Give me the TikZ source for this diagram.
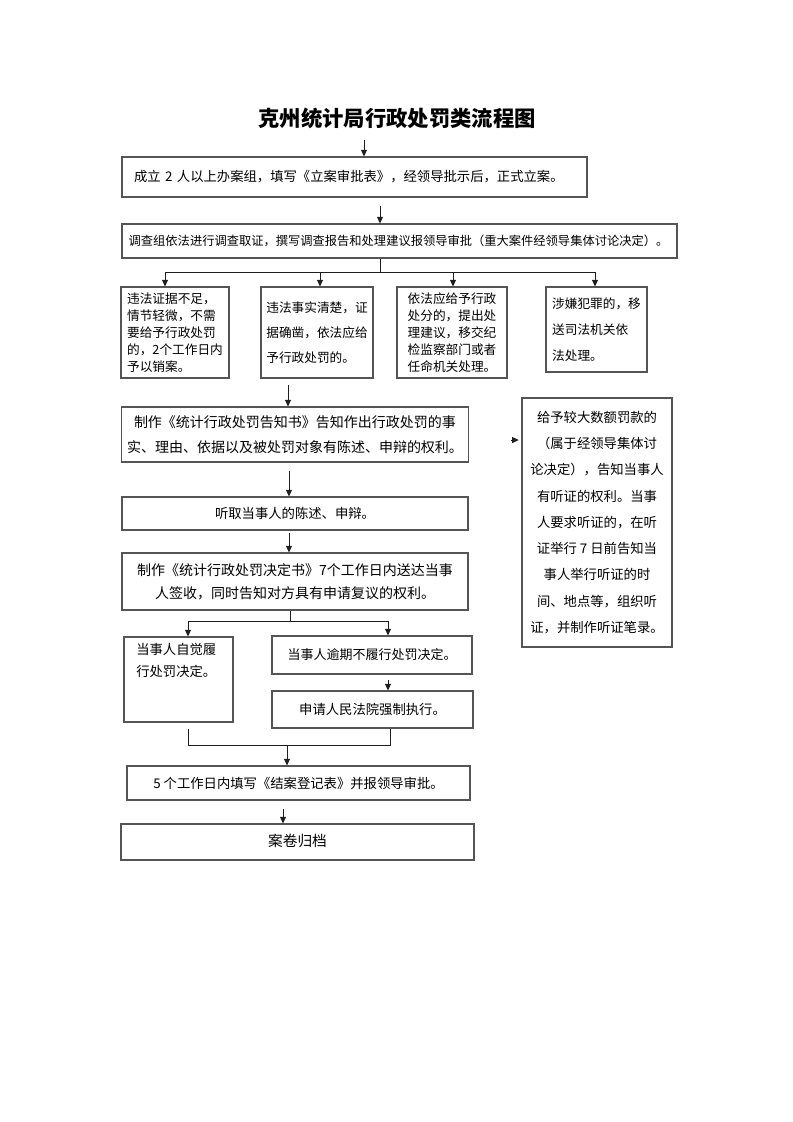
\documentclass[tikz,border=0pt]{standalone}
\usepackage{fontspec}
\setmainfont{Noto Sans CJK SC}
\usetikzlibrary{arrows.meta}

\definecolor{boxline}{RGB}{85,85,85}
\definecolor{inkline}{RGB}{30,30,30}

\tikzset{
  box/.style={draw=boxline, line width=0.8pt, inner xsep=4pt, inner ysep=0pt,
    align=center, font={\fontsize{10}{17}\selectfont}},
  narrow/.style={box, align=left, font={\fontsize{9.5}{12.8}\selectfont}},
  line/.style={draw=inkline, line width=0.75pt},
  arr/.style={line, -{Triangle[length=5pt,width=4.5pt]}}
}

\begin{document}
\begin{tikzpicture}[x=0.75pt, y=-0.75pt]

    % page frame (pixel grid of the reference)
    \useasboundingbox (0,0) rectangle (793,1122);

    % Title
    \node[font={\bfseries\fontsize{16}{16}\selectfont}] (title) at (397,118) {克州统计局行政处罚类流程图};

    % Filing and investigation
    \node[box, align=left, inner xsep=9pt, text width=330.75pt, minimum height=30pt] (filing) at (354.5,177)
      {成立 2 人以上办案组，填写《立案审批表》，经领导批示后，正式立案。};
    \node[box, align=left, inner xsep=5pt, text width=406.25pt, minimum height=25.5pt,
      font={\fontsize{9.2}{12}\selectfont}] (survey) at (399.5,241)
      {调查组依法进行调查取证，撰写调查报告和处理建议报领导审批（重大案件经领导集体讨论决定）。};

    % The four outcomes of the investigation
    \node[narrow, minimum width=81pt, minimum height=68.25pt] (insuf) at (175,332.5)
      {违法证据不足，\\情节轻微，不需\\要给予行政处罚\\的，2个工作日内\\予以销案。};
    \node[narrow, minimum width=84pt, minimum height=68.25pt,
      font={\fontsize{9.5}{18.5}\selectfont}] (clear) at (317,332.5)
      {违法事实清楚，证\\据确凿，依法应给\\予行政处罚的。};
    \node[narrow, minimum width=82.5pt, minimum height=68.25pt] (discip) at (452,332.5)
      {依法应给予行政\\处分的，提出处\\理建议，移交纪\\检监察部门或者\\任命机关处理。};
    \node[narrow, minimum width=75.75pt, minimum height=63.75pt,
      font={\fontsize{9.5}{19.5}\selectfont}] (crime) at (596.5,329.5)
      {涉嫌犯罪的，移\\送司法机关依\\法处理。};

    % Notice, hearing of the party, decision
    \node[box, minimum width=259.5pt, minimum height=41.25pt,
      font={\fontsize{10.5}{19}\selectfont}] (notice) at (295,434.5)
      {制作《统计行政处罚告知书》告知作出行政处罚的事\\实、理由、依据以及被处罚对象有陈述、申辩的权利。};
    \node[box, minimum width=259.5pt, minimum height=24.75pt] (state) at (295,513.5)
      {听取当事人的陈述、申辩。};
    \node[box, minimum width=259.5pt, minimum height=42.75pt,
      font={\fontsize{10.5}{17.5}\selectfont}] (decide) at (295,581.5)
      {制作《统计行政处罚决定书》7个工作日内送达当事\\人签收，同时告知对方具有申请复议的权利。};

    % Side box: hearing for large fines
    \node[box, minimum width=112.5pt, minimum height=186.75pt,
      font={\fontsize{10}{19.7}\selectfont}] (hearing) at (597,522.5)
      {给予较大数额罚款的\\（属于经领导集体讨\\论决定），告知当事人\\有听证的权利。当事\\人要求听证的，在听\\证举行 7 日前告知当\\事人举行听证的时\\间、地点等，组织听\\证，并制作听证笔录。};

    % Execution
    \node[box, minimum width=81.75pt, minimum height=63.75pt] (self) at (178.5,679.5) {};
    \node[anchor=north west, align=left, inner sep=0pt,
      font={\fontsize{10}{16.5}\selectfont}] (selftext) at (136,643)
      {当事人自觉履\\行处罚决定。};
    \node[box, minimum width=150pt, minimum height=28.5pt,
      font={\fontsize{9.75}{12}\selectfont}] (overdue) at (372,655)
      {当事人逾期不履行处罚决定。};
    \node[box, minimum width=150.75pt, minimum height=27.75pt] (court) at (372.5,709.5)
      {申请人民法院强制执行。};

    % Closing and archive
    \node[box, minimum width=257.25pt, minimum height=25.5pt] (close) at (298.5,783)
      {5 个工作日内填写《结案登记表》并报领导审批。};
    \node[box, minimum width=264.75pt, minimum height=27pt,
      font={\fontsize{11}{12}\selectfont}] (archive) at (297.5,842)
      {\raisebox{2pt}{案卷归档}};

    % Columns of the connectors
    \coordinate (in) at (364,140);
    \coordinate (x1) at (380,0);
    \coordinate (x2) at (288,0);
    \coordinate (x3) at (289,0);
    \coordinate (x4) at (388,0);
    \coordinate (x5) at (283,0);

    % Top part
    \draw[arr] (in) -- (in |- filing.north);
    \draw[arr, shorten <=6pt] (filing.south -| x1) -- (survey.north -| x1);

    % Split into the four outcomes
    \coordinate (split1) at (380,272);
    \coordinate (hinsuf) at (165,272);
    \coordinate (hclear) at (320,272);
    \coordinate (hdiscip) at (453,272);
    \coordinate (hcrime) at (595,272);
    \draw[line] (survey.south -| split1) -- (split1);
    \draw[line] (hinsuf) -- (hcrime);
    \foreach \n in {insuf,clear,discip,crime}
      \draw[arr] (h\n) -- (h\n |- \n.north);

    % Main column
    \draw[arr, shorten <=5pt] (clear.south -| x2) -- (notice.north -| x2);
    \draw[arr, shorten <=6pt] (notice.south -| x3) -- (state.north -| x3);
    \draw[arr, shorten <=2pt] (state.south -| x3) -- (decide.north -| x3);

    % Split into the two ways of execution
    \coordinate (split2) at (290,621);
    \coordinate (hself) at (188,621);
    \coordinate (hover) at (388,621);
    \draw[line] (decide.south -| split2) -- (split2);
    \draw[line] (hself) -- (hover);
    \draw[arr] (hself) -- (hself |- self.north);
    \draw[arr] (hover) -- (hover |- overdue.north);
    \draw[arr, shorten <=4pt] (overdue.south -| x4) -- (court.north -| x4);

    % Join again
    \coordinate (jself) at (188,745);
    \coordinate (jcourt) at (390,745);
    \coordinate (jmid) at (287,745);
    \draw[line, shorten <=5pt] (self.south -| jself) -- (jself) -- (jcourt) -- (jcourt |- court.south);
    \draw[arr] (jmid) -- (jmid |- close.north);
    \draw[arr, shorten <=6pt] (close.south -| x5) -- (archive.north -| x5);

    % Small arrow stub before the side box
    \coordinate (stub) at (511,440);
    \draw[arr, shorten >=2pt] (stub) -- (stub -| hearing.west);

\end{tikzpicture}
\end{document}
